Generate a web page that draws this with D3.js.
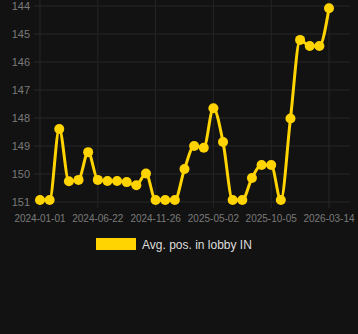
<!DOCTYPE html>
<html>
<head>
<meta charset="utf-8">
<script src="https://cdn.jsdelivr.net/npm/d3@7"></script>
<style>
	html, body { margin: 0; padding: 0; background: #121212; }
	svg { display: block; font-family: "Liberation Sans", Arial, sans-serif; }
</style>
</head>
<body>
<div id="chart"></div>
<script>
'use strict';

// one value per sample, evenly spaced along the x axis
const positions = [
	150.93, 150.93, 148.39, 150.26, 150.21, 149.22, 150.21, 150.25, 150.25, 150.29,
	150.40, 149.98, 150.93, 150.93, 150.93, 149.82, 149.00, 149.06, 147.65, 148.86,
	150.93, 150.93, 150.14, 149.68, 149.68, 150.93, 148.02, 145.21, 145.43, 145.43,
	144.08
];
const tickIndex  = [0, 6, 12, 18, 24, 30];
const tickLabels = ["2024-01-01", "2024-06-22", "2024-11-26", "2025-05-02", "2025-10-05", "2026-03-14"];
const yTicks     = [144, 145, 146, 147, 148, 149, 150, 151];
const seriesName = "Avg. pos. in lobby IN";

const drawChart = data =>
{
	const W = 358, H = 334;
	const left = 40, right = 29, top = 6, plotBottom = 202;
	const yellow = "#ffd400";

	const x = d3.scaleLinear().domain([0, data.length - 1]).range([left, W - right]);
	const y = d3.scaleLinear().domain([144, 151]).range([top, plotBottom]);

	const svg = d3.select("#chart")
		.append("svg")
		.attr("width", W)
		.attr("height", H);

	svg.append("rect").attr("width", W).attr("height", H).attr("fill", "#121212");

	// horizontal grid + y labels
	svg.append("g")
		.selectAll("line")
		.data(yTicks)
		.enter()
			.append("line")
			.attr("x1", 34).attr("x2", W - 8)
			.attr("y1", d => y(d)).attr("y2", d => y(d))
			.attr("stroke", "#262626").attr("stroke-width", 1);

	svg.append("g")
		.selectAll("text")
		.data(yTicks)
		.enter()
			.append("text")
			.attr("x", 30)
			.attr("y", d => y(d) + 4)
			.attr("text-anchor", "end")
			.attr("fill", "#7a7a7a")
			.style("font-size", "11px")
			.text(d => d);

	// vertical grid + x labels
	svg.append("g")
		.selectAll("line")
		.data(tickIndex)
		.enter()
			.append("line")
			.attr("x1", d => x(d)).attr("x2", d => x(d))
			.attr("y1", 0).attr("y2", plotBottom + 6)
			.attr("stroke", "#262626").attr("stroke-width", 1);

	svg.append("g")
		.selectAll("text")
		.data(tickIndex)
		.enter()
			.append("text")
			.attr("x", d => x(d))
			.attr("y", 222)
			.attr("text-anchor", "middle")
			.attr("fill", "#7a7a7a")
			.style("font-size", "10px")
			.text((d, i) => tickLabels[i]);

	const line = d3.line()
		.x((d, i) => x(i))
		.y(d => y(d))
		.curve(d3.curveMonotoneX);

	svg.append("path")
		.datum(data)
		.attr("d", line)
		.attr("fill", "none")
		.attr("stroke", yellow)
		.attr("stroke-width", 3);

	svg.append("g")
		.selectAll("circle")
		.data(data)
		.enter()
			.append("circle")
			.attr("cx", (d, i) => x(i))
			.attr("cy", d => y(d))
			.attr("r", 5)
			.attr("fill", yellow);

	// legend
	svg.append("rect")
		.attr("x", 96).attr("y", 238)
		.attr("width", 40).attr("height", 12)
		.attr("fill", yellow);

	svg.append("text")
		.attr("x", 142).attr("y", 248.5)
		.attr("fill", "#dddddd")
		.style("font-size", "12px")
		.text(seriesName);
};

document.addEventListener("DOMContentLoaded", () => drawChart(positions), false);
</script>
</body>
</html>
